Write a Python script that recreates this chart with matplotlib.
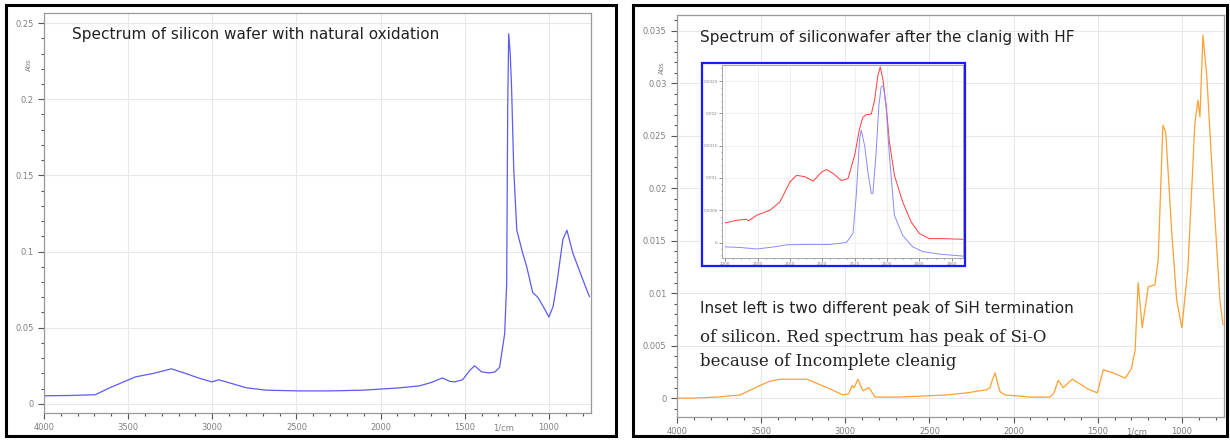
import matplotlib.pyplot as plt
from matplotlib.patches import Rectangle
from matplotlib.ticker import MultipleLocator, FormatStrFormatter

# left panel: silicon wafer with natural oxidation
wn_oxide = [4000, 3850, 3696, 3600, 3457, 3350, 3243, 3160, 3082, 3004, 2962, 2920,
            2800, 2682, 2485, 2300, 2100, 1889, 1770, 1700, 1633, 1590, 1561, 1513,
            1470, 1442, 1400, 1353, 1320, 1293, 1263, 1251, 1245, 1239, 1230, 1222,
            1209, 1191, 1156, 1132, 1096, 1066, 1024, 1000, 975, 953, 917, 893, 858,
            834, 800, 760]
abs_oxide = [0.0053, 0.0055, 0.006, 0.011, 0.0177, 0.020, 0.023, 0.020, 0.017, 0.0144,
             0.0158, 0.0145, 0.0106, 0.009, 0.0085, 0.0085, 0.009, 0.0105, 0.0118, 0.014,
             0.017, 0.0148, 0.0144, 0.0158, 0.022, 0.025, 0.021, 0.0203, 0.021, 0.024,
             0.046, 0.079, 0.193, 0.243, 0.23, 0.208, 0.154, 0.114, 0.099, 0.090, 0.073,
             0.070, 0.062, 0.057, 0.064, 0.079, 0.108, 0.114, 0.099, 0.092, 0.082, 0.0705]

# right panel: after HF cleaning
wn_hf = [4000, 3900, 3762, 3626, 3507, 3450, 3388, 3300, 3228, 3109, 3014, 2980, 2960,
         2948, 2925, 2910, 2895, 2859, 2824, 2675, 2400, 2277, 2160, 2140, 2125, 2110,
         2095, 2080, 2051, 1900, 1784, 1760, 1735, 1705, 1652, 1600, 1563, 1503, 1467,
         1408, 1337, 1300, 1278, 1260, 1236, 1200, 1160, 1141, 1113, 1096, 1060, 1031,
         1000, 964, 923, 905, 893, 875, 852, 815, 774, 756]
abs_hf = [0.0, 0.0, 0.0001, 0.0003, 0.0012, 0.0016, 0.0018, 0.0018, 0.0018, 0.001,
          0.0003, 0.0004, 0.0012, 0.001, 0.0018, 0.0012, 0.0007, 0.001, 0.0001, 0.0001,
          0.0003, 0.0005, 0.0008, 0.001, 0.0018, 0.0024, 0.0014, 0.0006, 0.0003, 0.0001,
          0.0001, 0.0005, 0.0017, 0.001, 0.0018, 0.0013, 0.0009, 0.0005, 0.0027, 0.0024,
          0.0019, 0.0028, 0.0046, 0.011, 0.0067, 0.0106, 0.0108, 0.0132, 0.026, 0.0253,
          0.0157, 0.0093, 0.0067, 0.0125, 0.0262, 0.0284, 0.0268, 0.0346, 0.0306, 0.0201,
          0.0093, 0.007]

# inset: Si-H region
wn_red = [2200, 2192.8, 2186.7, 2185.6, 2180.5, 2172.3, 2166.2, 2160, 2155.9, 2150.8,
          2145.6, 2140.5, 2137.4, 2133.3, 2128.2, 2124.1, 2120, 2116.9, 2114.9, 2112.8,
          2109.7, 2107.7, 2105.6, 2104.2, 2102.6, 2100.5, 2098.5, 2095.4, 2090.3, 2085.1,
          2080, 2073.8, 2065.6, 2053.3]
abs_red = [0.000304, 0.000345, 0.00036, 0.000335, 0.000423, 0.0005, 0.000629, 0.000938,
           0.00104, 0.00102, 0.00095, 0.00109, 0.00113, 0.00107, 0.00096, 0.00099,
           0.00135, 0.00177, 0.00194, 0.00198, 0.00199, 0.0022, 0.00259, 0.00272,
           0.00254, 0.00212, 0.00156, 0.00104, 0.00063, 0.00032, 0.00014, 0.00006,
           0.00006, 0.00005]
wn_blue = [2200, 2190.8, 2180.5, 2170.3, 2162.1, 2149.7, 2135.4, 2125.1, 2121, 2119,
           2116.9, 2115.9, 2113.8, 2111.8, 2109.7, 2108.7, 2106.7, 2105, 2103.6, 2102.2,
           2100.5, 2098.5, 2095.4, 2090.3, 2084.1, 2078, 2067.7, 2053.3]
abs_blue = [-0.000067, -0.000077, -0.0001, -0.00007, -0.000036, -0.00003, -0.00003, 0.0,
            0.00014, 0.00073, 0.00161, 0.00174, 0.0015, 0.00109, 0.00076, 0.00076,
            0.0014, 0.00212, 0.00241, 0.00243, 0.00207, 0.00135, 0.00042, 0.00011,
            -0.000067, -0.00014, -0.00018, -0.00021]
inset_xticks = [2200, 2180, 2160, 2140, 2120, 2100, 2080, 2060]

TICK_GRAY = "#808080"
SPINE_GRAY = "#999999"


def style_axes(ax, xlim, ylim, ymajor, yminor, fs=6):
    ax.set_xlim(*xlim)
    ax.set_ylim(*ylim)
    ax.xaxis.set_major_locator(MultipleLocator(500))
    ax.xaxis.set_minor_locator(MultipleLocator(100))
    ax.yaxis.set_major_locator(MultipleLocator(ymajor))
    ax.yaxis.set_minor_locator(MultipleLocator(yminor))
    ax.yaxis.set_major_formatter(FormatStrFormatter("%g"))
    ax.xaxis.set_major_formatter(FormatStrFormatter("%d"))
    ax.tick_params(which="both", direction="out", colors="#555555", labelcolor=TICK_GRAY,
                   labelsize=fs, width=0.8)
    ax.tick_params(which="major", length=4)
    ax.tick_params(which="minor", length=2.5)
    ax.grid(True, which="major", color="#e8e8e8", lw=0.8)
    for s in ax.spines.values():
        s.set_color(SPINE_GRAY)
        s.set_linewidth(0.9)
    # unit label sits in the tick label row
    ax.annotate("1/cm", xy=(1270, 0), xycoords=("data", "axes fraction"),
                xytext=(0, -7.5), textcoords="offset points", fontsize=fs,
                color=TICK_GRAY, ha="center", va="top")
    ax.text(-0.027, 0.87, "Abs", transform=ax.transAxes, rotation=90, fontsize=5,
            color=TICK_GRAY, ha="center", va="center")


fig = plt.figure(figsize=(12.3, 4.41), dpi=100)

# black frames around the two screenshots
fig.patches.append(Rectangle((6 / 1230, 5 / 441), 610 / 1230, 431 / 441, transform=fig.transFigure,
                             fill=False, ec="black", lw=2.2))
fig.patches.append(Rectangle((633 / 1230, 5 / 441), 594 / 1230, 431 / 441, transform=fig.transFigure,
                             fill=False, ec="black", lw=2.2))

# left panel
ax1 = fig.add_axes([44 / 1230, 1 - 413 / 441, 547 / 1230, 400 / 441])
ax1.plot(wn_oxide, abs_oxide, color="#5c5cf2", lw=0.9)
style_axes(ax1, (4000, 750), (-0.006, 0.2566), 0.05, 0.01)
ax1.text(0.051, 0.945, "Spectrum of silicon wafer with natural oxidation", transform=ax1.transAxes,
         fontsize=11, va="center", ha="left", color="#222222")

# right panel
ax2 = fig.add_axes([677 / 1230, 1 - 417 / 441, 547 / 1230, 402 / 441])
ax2.plot(wn_hf, abs_hf, color="#ffa033", lw=0.9)
style_axes(ax2, (4000, 750), (-0.0018, 0.0365), 0.005, 0.001)
ax2.text(0.042, 0.945, "Spectrum of siliconwafer after the clanig with HF", transform=ax2.transAxes,
         fontsize=11, va="center", ha="left", color="#222222")
ax2.text(0.042, 0.269, "Inset left is two different peak of SiH termination", transform=ax2.transAxes,
         fontsize=11, va="center", ha="left", color="#222222")
ax2.text(0.042, 0.199, "of silicon. Red spectrum has peak of Si-O", transform=ax2.transAxes,
         fontsize=12, va="center", ha="left", color="#222222", family="DejaVu Serif")
ax2.text(0.042, 0.139, "because of Incomplete cleanig", transform=ax2.transAxes,
         fontsize=12, va="center", ha="left", color="#222222", family="DejaVu Serif")

# blue frame of the inset
fig.patches.append(Rectangle((702 / 1230, 1 - 266 / 441), 263 / 1230, 203 / 441, transform=fig.transFigure,
                             fc="white", ec="#1a1aff", lw=1.6, zorder=5))

ax3 = fig.add_axes([722 / 1230, 1 - 258 / 441, 241 / 1230, 193 / 441], zorder=6)
ax3.plot(wn_red, abs_red, color="#ff3b3b", lw=0.7)
ax3.plot(wn_blue, abs_blue, color="#8a8aff", lw=0.7)
ax3.set_xlim(2202, 2053)
ax3.set_ylim(-0.00024, 0.00275)
ax3.set_xticks(inset_xticks)
ax3.xaxis.set_minor_locator(MultipleLocator(5))
ax3.yaxis.set_major_locator(MultipleLocator(0.0005))
ax3.yaxis.set_minor_locator(MultipleLocator(0.0001))
ax3.yaxis.set_major_formatter(FormatStrFormatter("%g"))
ax3.tick_params(which="both", direction="out", colors="#666666", labelcolor=TICK_GRAY,
                labelsize=3, width=0.5, pad=1)
ax3.tick_params(which="major", length=2)
ax3.tick_params(which="minor", length=1)
ax3.grid(True, which="major", color="#eeeeee", lw=0.6)
for s in ax3.spines.values():
    s.set_color(SPINE_GRAY)
    s.set_linewidth(0.6)

fig.savefig("out.png", dpi=100)
